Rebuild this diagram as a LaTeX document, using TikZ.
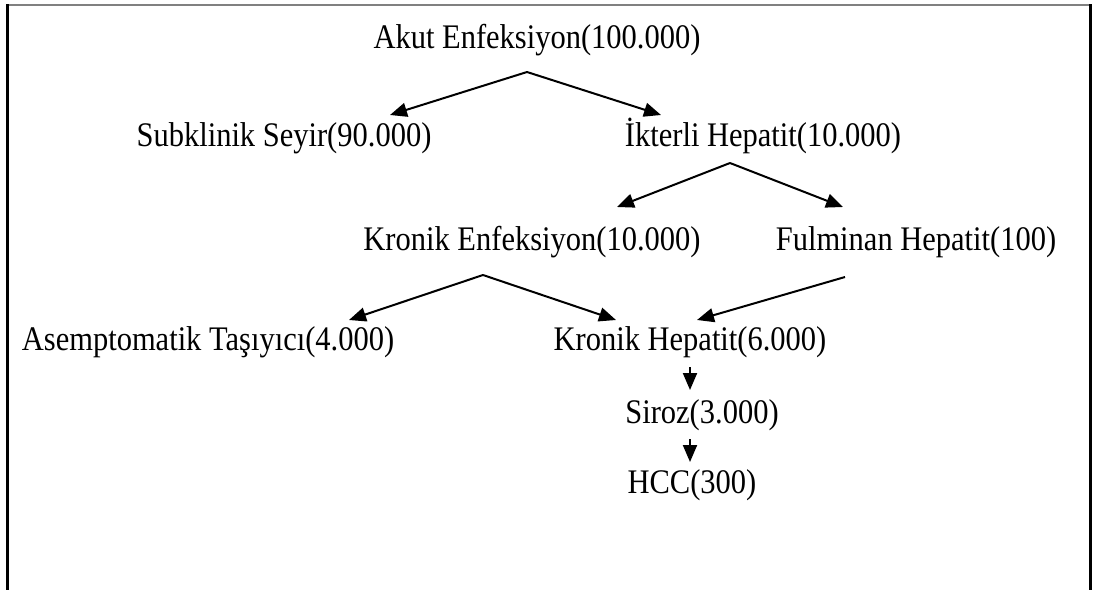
\documentclass[tikz,border=0pt]{standalone}
\usepackage{fontspec}
\setmainfont{Liberation Serif}
\usetikzlibrary{arrows.meta}
\newcommand\vtxt[1]{\scalebox{1}[1.13]{#1}}
\begin{document}
\begin{tikzpicture}[x=1pt,y=-1pt,
  lbl/.style={anchor=base,inner sep=0pt,font=\fontsize{30.5}{35}\selectfont},
  conn/.style={line width=2pt,-{Triangle[length=17pt,width=14pt]}},
  frame/.style={line width=2.2pt}]
\useasboundingbox (0,0) rectangle (1093,590);
% frame
\draw[frame,black!50] (7,5) -- (1091,5);
\draw[frame] (7.5,4) -- (7.5,590);
\draw[frame] (1090.5,4) -- (1090.5,590);
% nodes
\node[lbl] (akut) at (537,48) {\vtxt{Akut Enfeksiyon(100.000)}};
\node[lbl] (sub) at (284,146) {\vtxt{Subklinik Seyir(90.000)}};
\node[lbl] (ikt) at (763,146) {\vtxt{İkterli Hepatit(10.000)}};
\node[lbl] (kenf) at (532,250) {\vtxt{Kronik Enfeksiyon(10.000)}};
\node[lbl] (ful) at (916,250) {\vtxt{Fulminan Hepatit(100)}};
\node[lbl] (asm) at (208,350) {\vtxt{Asemptomatik Taşıyıcı(4.000)}};
\node[lbl] (khep) at (690,350) {\vtxt{Kronik Hepatit(6.000)}};
\node[lbl] (sir) at (702,423) {\vtxt{Siroz(3.000)}};
\node[lbl] (hcc) at (692,493) {\vtxt{HCC(300)}};
% connector points
\coordinate (a0) at (527,72);
\coordinate (a1) at (390,115);
\coordinate (a2) at (661,115);
\coordinate (b0) at (730,163);
\coordinate (b1) at (617,207);
\coordinate (b2) at (843,207);
\coordinate (c0) at (483,275);
\coordinate (c1) at (349,320);
\coordinate (c2) at (616,320);
\coordinate (d0) at (845,277);
\coordinate (d1) at (697,320);
\coordinate (e0) at (690,367);
\coordinate (e1) at (690,390);
\coordinate (f0) at (690,439);
\coordinate (f1) at (690,462);
% connectors
\draw[conn] (a0) -- (a1);
\draw[conn] (a0) -- (a2);
\draw[conn] (b0) -- (b1);
\draw[conn] (b0) -- (b2);
\draw[conn] (c0) -- (c1);
\draw[conn] (c0) -- (c2);
\draw[conn] (d0) -- (d1);
\draw[conn] (e0) -- (e1);
\draw[conn] (f0) -- (f1);
\end{tikzpicture}
\end{document}
